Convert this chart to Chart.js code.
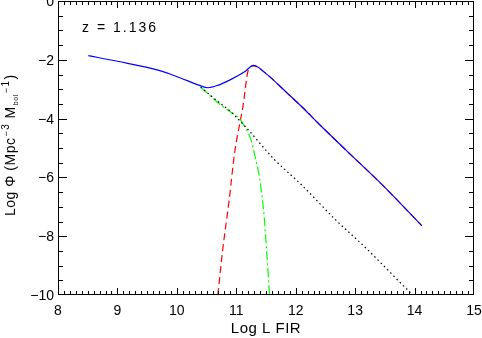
<!DOCTYPE html>
<html>
<head>
<meta charset="utf-8">
<script src="https://cdn.jsdelivr.net/npm/chart.js@4.4.1/dist/chart.umd.min.js"></script>
<style>
  html, body { margin: 0; background: #fff; }
  #wrap { width: 482px; height: 338px; }
</style>
</head>
<body>
<div id="wrap"><canvas id="lfChart"></canvas></div>
<script>
// values (log L FIR, log phi)
const totalX = [8.51, 9.0, 9.7, 10.04, 10.38, 10.52, 10.7, 10.88, 11.14, 11.29, 11.5, 11.84, 12.12, 12.34, 12.85, 13.47, 14.12];
const totalY = [-1.86, -2.05, -2.36, -2.6, -2.87, -2.95, -2.86, -2.70, -2.41, -2.19, -2.47, -3.10, -3.63, -4.08, -5.08, -6.28, -7.64];

const starburstX = [10.69, 10.77, 10.88, 10.97, 11.11, 11.21, 11.29, 11.5, 11.84, 12.12, 12.34, 12.85, 13.47, 14.12];
const starburstY = [-10, -8.48, -6.78, -5.19, -3.61, -2.30, -2.21, -2.47, -3.10, -3.63, -4.08, -5.08, -6.28, -7.64];

const normalX = [10.4, 10.55, 10.71, 10.88, 11.05, 11.16, 11.25, 11.33, 11.39, 11.47, 11.51, 11.56];
const normalY = [-2.93, -3.2, -3.49, -3.74, -4.0, -4.34, -4.74, -5.42, -5.99, -7.35, -8.48, -10];

const dottedX = [10.4, 10.71, 10.88, 11.16, 11.64, 12.09, 12.68, 13.19, 13.92, 14.0];
const dottedY = [-2.93, -3.45, -3.72, -4.29, -5.39, -6.24, -7.46, -8.42, -9.9, -10.05];

const xTicks = [8, 9, 10, 11, 12, 13, 14, 15];
const yTicks = [0, -2, -4, -6, -8, -10];
const redshiftLabel = 'z = 1.136';

function toPoints(xs, ys) {
    return xs.map((x, i) => ({ x: x, y: ys[i] }));
}

const FONT = 'Liberation Sans, Arial, sans-serif';

// box, inward ticks on all four sides, tick labels and titles
const framePlugin = {
    id: 'framePlugin',
    afterDraw(chart) {
        const { ctx, chartArea: a, scales } = chart;
        const xs = scales.x, ys = scales.y;
        const L = Math.round(a.left), R = Math.round(a.right) - 1;
        const T = Math.round(a.top), B = Math.round(a.bottom) - 1;
        ctx.save();
        ctx.fillStyle = '#000';
        ctx.fillRect(L, T, R - L + 1, 1);
        ctx.fillRect(L, B, R - L + 1, 1);
        ctx.fillRect(L, T, 1, B - T + 1);
        ctx.fillRect(R, T, 1, B - T + 1);

        for (let v = 80; v <= 150; v++) {
            const px = Math.round(xs.getPixelForValue(v / 10));
            const len = v % 10 === 0 ? 7 : 4;
            ctx.fillRect(Math.min(px, R), B - len + 1, 1, len);
            ctx.fillRect(Math.min(px, R), T, 1, len);
        }
        for (let v = 0; v >= -20; v--) {
            const py = Math.min(Math.round(ys.getPixelForValue(v / 2)), B);
            const len = v % 4 === 0 ? 9 : 5;
            ctx.fillRect(L, py, len, 1);
            ctx.fillRect(R - len + 1, py, len, 1);
        }

        ctx.font = '14px ' + FONT;
        ctx.textBaseline = 'alphabetic';
        ctx.textAlign = 'center';
        xTicks.forEach(v => ctx.fillText(String(v), xs.getPixelForValue(v), 315));
        ctx.textAlign = 'right';
        yTicks.forEach(v => {
            const s = v === 0 ? '0' : '\u2212' + String(-v);
            ctx.fillText(s, 54, ys.getPixelForValue(v) + 5);
        });

        ctx.textAlign = 'left';
        ctx.letterSpacing = '2px';
        ctx.fillText(redshiftLabel, 82, 32);
        ctx.letterSpacing = '0.5px';

        // x title
        ctx.textAlign = 'center';
        ctx.font = '15px ' + FONT;
        ctx.fillText('Log L FIR', (a.left + a.right) / 2, 333);

        // y title with super/subscripts
        ctx.textAlign = 'left';
        ctx.translate(15, 216);
        ctx.rotate(-Math.PI / 2);
        const parts = [
            ['Log \u03A6 (Mpc', 14, 0],
            ['\u2212', 9, -6],
            ['3', 10, -6],
            [' M', 14, 0],
            ['bol', 7, 3],
            ['\u2212', 9, -6],
            ['1', 10, -6],
            [')', 14, 0]
        ];
        let cx = 0;
        parts.forEach(p => {
            ctx.font = p[1] + 'px ' + FONT;
            ctx.fillText(p[0], cx, p[2]);
            cx += ctx.measureText(p[0]).width + 1;
        });
        ctx.restore();
    }
};

new Chart(document.getElementById('lfChart'), {
    type: 'scatter',
    data: {
        datasets: [
            {
                label: 'total',
                data: toPoints(totalX, totalY),
                borderColor: '#0000ff',
                order: 0
            },
            {
                label: 'starburst',
                data: toPoints(starburstX, starburstY),
                borderColor: '#ff0000',
                borderDash: [7, 4],
                order: 3
            },
            {
                label: 'normal',
                data: toPoints(normalX, normalY),
                borderColor: '#00ff00',
                borderDash: [9, 3, 2, 3],
                order: 2
            },
            {
                label: 'other',
                data: toPoints(dottedX, dottedY),
                borderColor: '#000000',
                borderDash: [1.5, 3],
                order: 1
            }
        ].map(d => Object.assign(d, {
            showLine: true,
            borderWidth: 1.2,
            pointRadius: 0,
            cubicInterpolationMode: 'monotone',
            fill: false
        }))
    },
    options: {
        responsive: true,
        maintainAspectRatio: false,
        animation: false,
        devicePixelRatio: 1,
        layout: { padding: { top: 1, right: 8, left: 0, bottom: 0 } },
        plugins: {
            legend: { display: false },
            tooltip: { enabled: false }
        },
        scales: {
            x: {
                type: 'linear',
                min: 8,
                max: 15,
                afterBuildTicks: s => { s.ticks = xTicks.map(v => ({ value: v })); },
                afterFit: s => { s.height = 43; },
                grid: { display: false, drawTicks: false },
                border: { display: false },
                ticks: { display: false }
            },
            y: {
                type: 'linear',
                min: -10,
                max: 0,
                afterBuildTicks: s => { s.ticks = yTicks.map(v => ({ value: v })); },
                afterFit: s => { s.width = 58; },
                grid: { display: false, drawTicks: false },
                border: { display: false },
                ticks: { display: false }
            }
        }
    },
    plugins: [framePlugin]
});
</script>
</body>
</html>
